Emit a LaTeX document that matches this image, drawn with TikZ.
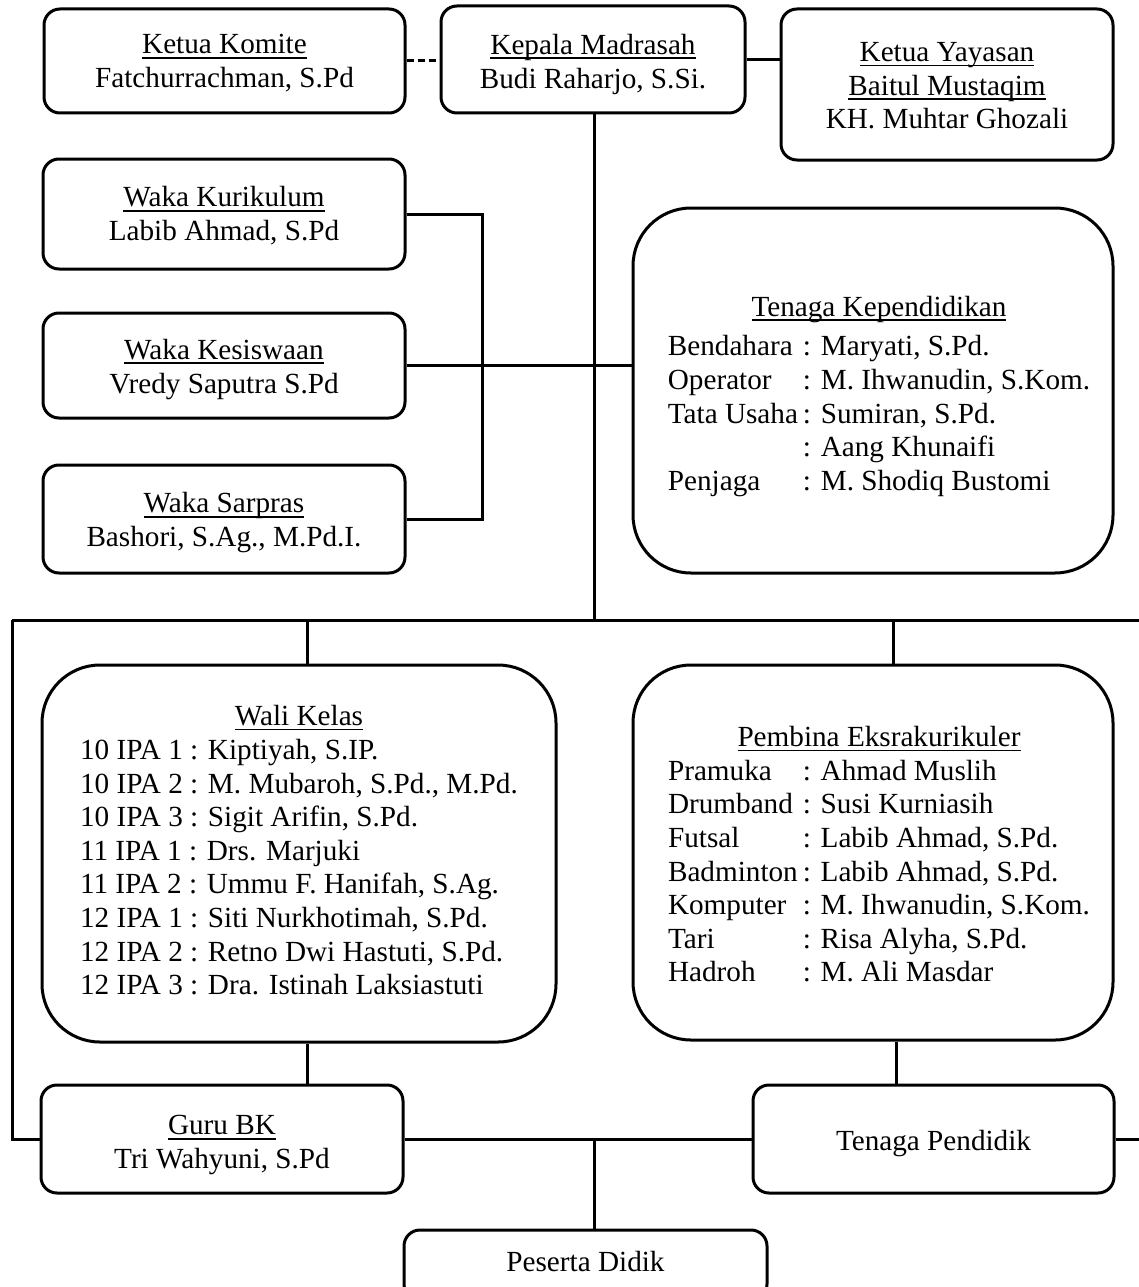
\documentclass[tikz,border=0pt]{standalone}
\usepackage{fontspec}
\setmainfont{Liberation Serif}
\newcommand{\myul}[1]{\setbox0\hbox{#1}\rlap{\rule[-4.6pt]{\wd0}{1.7pt}}\box0}
\newcommand{\tx}[2]{\raisebox{-#1}[\height][\depth]{\begin{tabular}{@{}c@{}}#2\end{tabular}}}
\begin{document}
\begin{tikzpicture}[x=1pt,y=-1pt,
  every node/.style={font=\fontsize{29.2}{33.6}\selectfont},
  sbox/.style={draw, line width=3pt, rounded corners=16pt, align=center, inner sep=0pt},
  bbox/.style={draw, line width=3pt, rounded corners=58pt, align=center, inner sep=0pt},
  conn/.style={line width=3pt},
  dconn/.style={line width=3pt, dash pattern=on 7pt off 4pt}]
\useasboundingbox (0,0) rectangle (1139,1287);
\fill[white] (0,0) rectangle (1139,1287);
\clip (0,0) rectangle (1139,1287);

% top row
\node[sbox, minimum width=361, minimum height=104] (komite) at (224.5,61)
  {\tx{3pt}{\myul{Ketua Komite}\\Fatchurrachman, S.Pd}};
\node[sbox, minimum width=304, minimum height=107] (kepala) at (593,59.5)
  {\tx{5pt}{\myul{Kepala Madrasah}\\Budi Raharjo, S.Si.}};
\node[sbox, minimum width=332, minimum height=151] (yayasan) at (947,84.5)
  {\tx{4pt}{\myul{Ketua Yayasan}\\\myul{Baitul Mustaqim}\\KH. Muhtar Ghozali}};

% waka boxes
\node[sbox, minimum width=362, minimum height=110] (kurikulum) at (224,214)
  {\tx{3pt}{\myul{Waka Kurikulum}\\Labib Ahmad, S.Pd}};
\node[sbox, minimum width=362, minimum height=105] (kesiswaan) at (224,365.5)
  {\tx{4pt}{\myul{Waka Kesiswaan}\\Vredy Saputra S.Pd}};
\node[sbox, minimum width=362, minimum height=108] (sarpras) at (224,519)
  {\tx{4pt}{\myul{Waka Sarpras}\\Bashori, S.Ag., M.Pd.I.}};

% tenaga kependidikan
\node[bbox, minimum width=480, minimum height=365] (tk) at (873,390.5)
  {\hspace*{12pt}\tx{6pt}{\myul{Tenaga Kependidikan}\\[6pt]
   \begin{tabular}[t]{@{}l@{\hspace{5pt}}l@{}}
   Bendahara & : Maryati, S.Pd.\\
   Operator & : M. Ihwanudin, S.Kom.\\
   Tata Usaha & : Sumiran, S.Pd.\\
    & : Aang Khunaifi\\
   Penjaga & : M. Shodiq Bustomi
   \end{tabular}}};

% wali kelas
\node[bbox, minimum width=514, minimum height=377] (wk) at (299,853.5)
  {\tx{0pt}{\myul{Wali Kelas}\\
   \begin{tabular}[t]{@{}l@{}}
   10 IPA 1 : Kiptiyah, S.IP.\\
   10 IPA 2 : M. Mubaroh, S.Pd., M.Pd.\\
   10 IPA 3 : Sigit Arifin, S.Pd.\\
   11 IPA 1 : Drs. Marjuki\\
   11 IPA 2 : Ummu F. Hanifah, S.Ag.\\
   12 IPA 1 : Siti Nurkhotimah, S.Pd.\\
   12 IPA 2 : Retno Dwi Hastuti, S.Pd.\\
   12 IPA 3 : Dra. Istinah Laksiastuti
   \end{tabular}}};

% pembina
\node[bbox, minimum width=480, minimum height=375] (pe) at (873,852.5)
  {\hspace*{12pt}\tx{5pt}{\myul{Pembina Eksrakurikuler}\\
   \begin{tabular}[t]{@{}l@{\hspace{5pt}}l@{}}
   Pramuka & : Ahmad Muslih\\
   Drumband & : Susi Kurniasih\\
   Futsal & : Labib Ahmad, S.Pd.\\
   Badminton & : Labib Ahmad, S.Pd.\\
   Komputer & : M. Ihwanudin, S.Kom.\\
   Tari & : Risa Alyha, S.Pd.\\
   Hadroh & : M. Ali Masdar
   \end{tabular}}};

% bottom
\node[sbox, minimum width=362, minimum height=108] (guru) at (222,1139)
  {\tx{6pt}{\myul{Guru BK}\\Tri Wahyuni, S.Pd}};
\node[sbox, minimum width=361, minimum height=108] (tp) at (933.5,1139)
  {\tx{5pt}{Tenaga Pendidik}};
\node[sbox, minimum width=363, minimum height=70] (pd) at (585.5,1265)
  {\tx{0pt}{Peserta Didik}};

% helper coordinates
\coordinate (busL) at (12,620);
\coordinate (busR) at (1150,620);
\coordinate (brk) at (482,400);
\coordinate (trunk) at (594,0);
\coordinate (wkx) at (307,0);
\coordinate (pex) at (893,0);
\coordinate (pex2) at (896,0);
\coordinate (edgeR) at (1150,0);

% connectors
\draw[dconn] (komite.east) -- (komite.east -| kepala.west);
\draw[conn] (kepala.east) -- (kepala.east -| yayasan.west);
\draw[conn] (trunk |- kepala.south) -- (trunk |- busL);
\draw[conn] (kurikulum.east) -- (kurikulum.east -| brk) -- (brk |- sarpras.east) -- (sarpras.east);
\draw[conn] (kesiswaan.east) -- (kesiswaan.east -| tk.west);
\draw[conn] (busL) -- (busR);
\draw[conn] (wkx |- busL) -- (wkx |- wk.north);
\draw[conn] (pex |- busL) -- (pex |- pe.north);
\draw[conn] (wkx |- wk.south) -- (wkx |- guru.north);
\draw[conn] (pex2 |- pe.south) -- (pex2 |- tp.north);
\draw[conn] (busL) |- (guru.west);
\draw[conn] (guru.east) -- (tp.west);
\draw[conn] (tp.east) -- (tp.east -| edgeR);
\draw[conn] (trunk |- guru.east) -- (trunk |- pd.north);
\end{tikzpicture}
\end{document}
